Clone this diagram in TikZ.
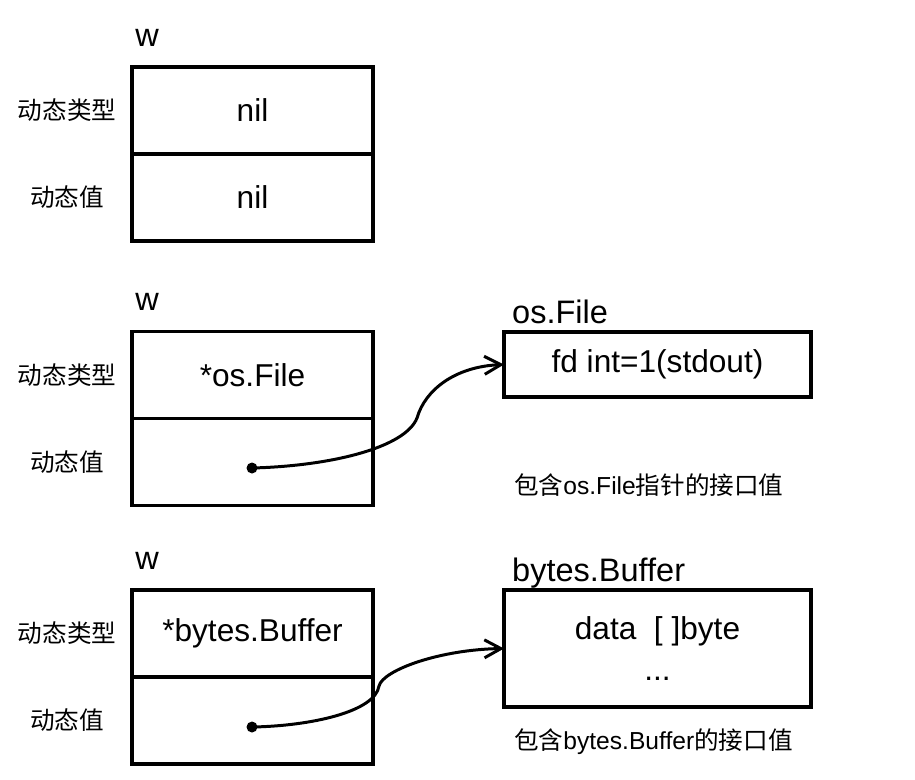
\documentclass[tikz,border=0pt]{standalone}
\usepackage{fontspec}
\setmainfont{Liberation Sans}
\newfontfamily\cjk{Noto Sans CJK SC}
\usetikzlibrary{positioning,arrows.meta}

\begin{document}
\begin{tikzpicture}[x=0.02cm,y=-0.02cm,
    cell/.style={draw, line width=1.8pt, outer sep=0pt, minimum width=4.82cm, minimum height=1.74cm, font=\fontsize{18}{22}\selectfont},
    obj/.style={draw, line width=1.8pt, outer sep=0pt, minimum width=6.14cm, align=center, font=\fontsize{18}{20.5}\selectfont},
    big/.style={font=\fontsize{18.5}{22}\selectfont},
    side/.style={font=\cjk\fontsize{14}{17}\selectfont},
    note/.style={anchor=west, font=\fontsize{14}{17}\selectfont},
    dot/.style={circle, fill=black, inner sep=0pt, minimum size=0.22cm},
    link/.style={line width=1.7pt, -{Straight Barb[length=3.3mm,width=3.6mm]}}]
    \useasboundingbox (0,0) rectangle (915,779); % page size

    % nil interface
    \node[big] (wA) at (147,38) {w};
    \node[cell] (typeA) at (252.5,110.5) {nil};
    \node[cell, below=0pt of typeA] (valA) {nil};
    \node[side] (typeLabA) at (67,110.5) {动态类型};
    \node[side] (valLabA) at (67,197.5) {动态值};

    % interface holding *os.File
    \node[big] (wB) at (147,302) {w};
    \node[cell] (typeB) at (252.5,375) {*os.File};
    \node[cell, below=0pt of typeB] (valB) {};
    \node[side] (typeLabB) at (67,375) {动态类型};
    \node[side] (valLabB) at (67,462) {动态值};
    \node[dot] (ptrB) at (252,468) {}; % pointer
    \node[obj, minimum height=1.3cm] (fileBox) at (657.5,364.5) {fd int=1(stdout)};
    \node[big, anchor=base west] (fileName) at ([shift={(2,-9)}]fileBox.north west) {os.File};
    \node[note] (noteB) at (508,485) {{\cjk 包含}os.File{\cjk 指针的接口值}};
    \coordinate (bendB) at (417,418);
    \draw[link] (ptrB.center) .. controls +(78,-2) and +(-12,30) .. (bendB) .. controls +(8,-28) and +(-49,2) .. (fileBox.west); % to os.File

    % interface holding *bytes.Buffer
    \node[big] (wC) at (147,561) {w};
    \node[cell] (typeC) at (252.5,633.5) {*bytes.Buffer};
    \node[cell, below=0pt of typeC] (valC) {};
    \node[side] (typeLabC) at (67,633.5) {动态类型};
    \node[side] (valLabC) at (67,720) {动态值};
    \node[dot] (ptrC) at (252,727) {}; % pointer
    \node[obj, minimum height=2.34cm, text depth=-6pt] (bufBox) at (657.5,648.5) {data\ \ [\ ]byte\\[3pt]...};
    \node[big, anchor=base west] (bufName) at ([shift={(2,-9)}]bufBox.north west) {bytes.Buffer};
    \node[note] (noteC) at (508,742) {{\cjk 包含}bytes.Buffer{\cjk 的接口值}};
    \coordinate (bendC) at (379,686);
    \draw[link] (ptrC.center) .. controls +(58,-1) and +(-4,26) .. (bendC) .. controls +(4,-16) and +(-64,1) .. (bufBox.west); % to bytes.Buffer
\end{tikzpicture}
\end{document}
